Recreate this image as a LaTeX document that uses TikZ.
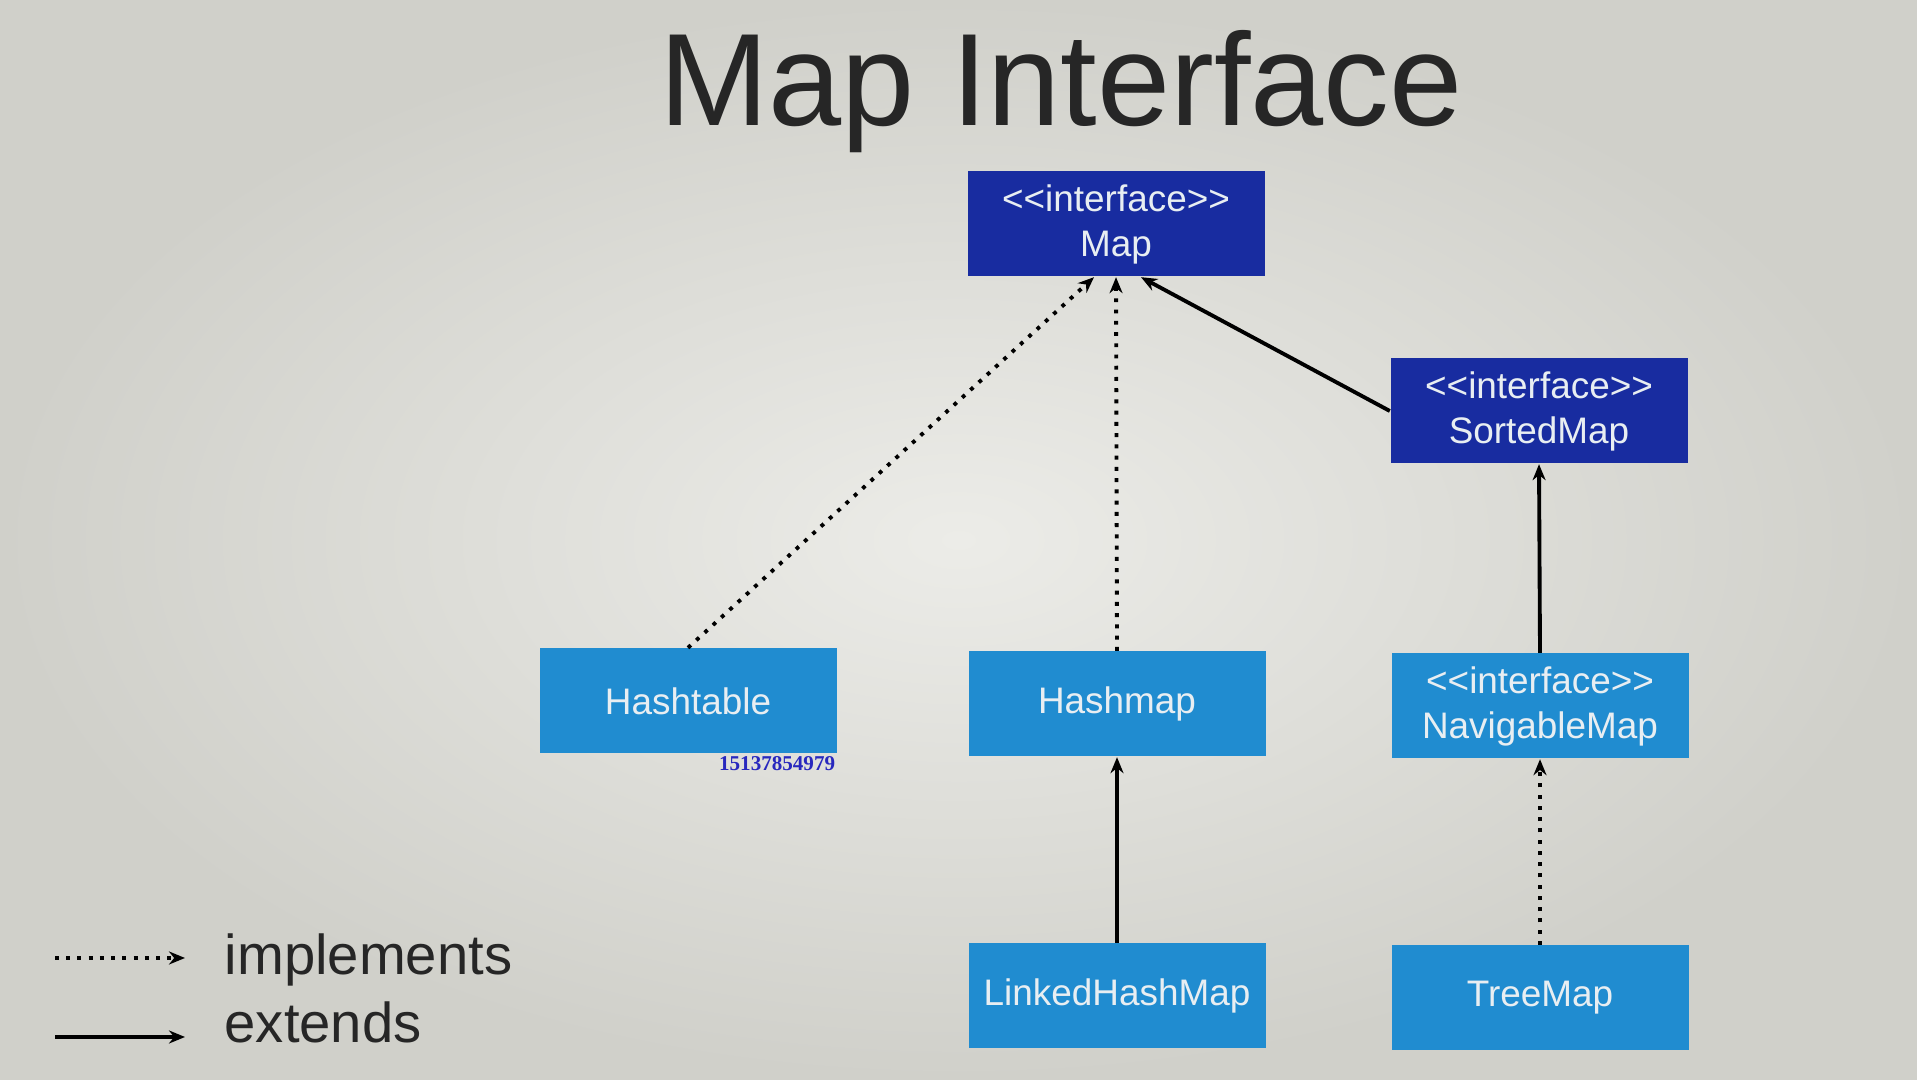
\documentclass[tikz,border=0pt]{standalone}
\usepackage{xcolor}
\usepackage{fontspec}
\setmainfont{Liberation Sans}
\newfontfamily\markfont{Liberation Serif}
\usepackage{tikz}
\usetikzlibrary{arrows.meta, positioning}
\definecolor{screenlight}{RGB}{236,236,232}
\definecolor{screendark}{RGB}{208,208,202}
\definecolor{ifaceblue}{RGB}{24,44,160}
\definecolor{clsblue}{RGB}{32,140,208}
\definecolor{boxtext}{RGB}{232,238,242}
\definecolor{markblue}{RGB}{40,40,190}
\tikzstyle{iface} = [rectangle,
minimum width=2.97cm,
minimum height=1.05cm,
inner sep=0pt,
text centered,
text width=2.9cm,
font=\fontsize{10.5}{12.8}\selectfont,
text=boxtext,
fill=ifaceblue]
\tikzstyle{cls} = [iface, fill=clsblue]
\tikzstyle{impl} = [line width=1.1pt, dash pattern=on 1.1pt off 2.1pt, -{Stealth[length=1.6mm,width=1.3mm]}]
\tikzstyle{ext} = [line width=1.1pt, -{Stealth[length=1.6mm,width=1.3mm]}]
\tikzstyle{legend} = [anchor=base west, inner sep=0pt, font=\fontsize{16}{19}\selectfont, text=black!85]

\begin{document}
\begin{tikzpicture}[node distance=2.92cm]
            \shade[inner color=screenlight, outer color=screendark] (0,0) rectangle (19.17,10.80);
            \useasboundingbox (0,0) rectangle (19.17,10.80);

            \node (title) [anchor=base, font=\fontsize{37.4}{44}\selectfont, text=black!85] at (10.61,9.54) {Map Interface};

            \node (map) [iface] at (11.16,8.56) {{<}{<}interface{>}{>}\\Map};
            \node (sorted) [iface] at (15.39,6.69) {{<}{<}interface{>}{>}\\SortedMap};
            \node (hashtable) [cls] at (6.88,3.79) {Hashtable};
            \node (hashmap) [cls] at (11.17,3.76) {Hashmap};
            \node (navmap) [cls] at (15.40,3.74) {{<}{<}interface{>}{>}\\NavigableMap};
            \node (linked) [cls, below of=hashmap] {LinkedHashMap};
            \node (treemap) [cls, below of=navmap] {TreeMap};
            \node (phone) [anchor=north east, inner sep=0.4pt, font=\markfont\bfseries\fontsize{6}{7}\selectfont, text=markblue] at (hashtable.south east) {15137854979};

            \draw [impl] (hashtable.north) -- ([xshift=-2.2mm]map.south);
            \draw [impl] (hashmap.north) -- (map.south);
            \draw [ext] (sorted.west) -- ([xshift=2.5mm]map.south);
            \draw [ext] (navmap.north) -- (sorted.south);
            \draw [ext] (linked.north) -- (hashmap.south);
            \draw [impl] (treemap.north) -- (navmap.south);

            % legend
            \coordinate (impl-a) at (0.55,1.22);
            \coordinate (impl-b) at (1.85,1.22);
            \coordinate (ext-a) at (0.55,0.43);
            \coordinate (ext-b) at (1.85,0.43);
            \draw [impl] (impl-a) -- (impl-b);
            \draw [ext] (ext-a) -- (ext-b);
            \node (impltext) [legend] at (2.24,1.05) {implements};
            \node (exttext) [legend] at (2.24,0.37) {extends};
        \end{tikzpicture}
\end{document}
